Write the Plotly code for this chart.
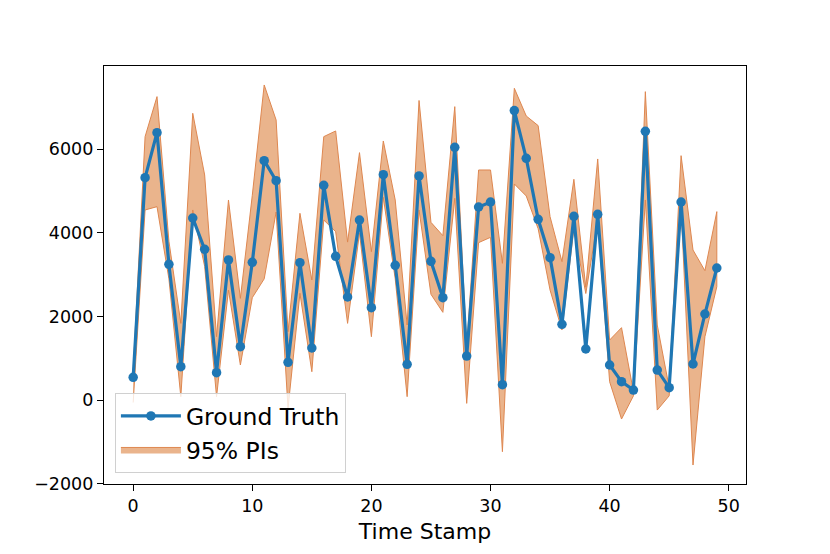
import plotly.graph_objects as go

time_stamp = list(range(50))

ground_truth = [543, 5323, 6400, 3248, 798, 4357, 3607, 654, 3352, 1277,
                3296, 5730, 5251, 902, 3288, 1245, 5139, 3439, 2466, 4309,
                2210, 5394, 3224, 854, 5365, 3320, 2450, 6049, 1053, 4620,
                4740, 367, 6927, 5786, 4325, 3407, 1811, 4397, 1221, 4445,
                838, 439, 239, 6432, 718, 295, 4740, 862, 2059, 3160]

pi_upper = [700, 6304, 7262, 3800, 1835, 6863, 5387, 1516, 4788, 2434,
            4900, 7541, 6703, 1636, 4469, 2873, 6304, 6440, 3780, 5921,
            3551, 6200, 4788, 1795, 7170, 4253, 3934, 7022, 1277, 5506,
            5506, 3272, 7461, 6799, 6568, 4389, 3312, 5283, 2700, 5770,
            1436, 1732, 200, 7381, 1795, 300, 5849, 3591, 3096, 4509]

pi_lower = [-60, 4549, 4628, 2900, 80, 4549, 3200, 80, 2633, 838,
            2450, 2900, 4500, -200, 2554, 678, 4309, 4030, 1835, 4000,
            1516, 4850, 2900, 80, 4549, 2530, 2099, 4828, -80, 3767,
            3894, -1237, 5171, 4884, 4100, 2633, 1676, 4100, 2550, 4300,
            439, -455, 100, 4788, -240, 100, 4600, -1556, 1516, 2713]

blue = "#1f77b4"
orange_fill = "rgb(234,180,140)"
orange_edge = "rgb(222,135,80)"

fig = go.Figure()

# band: upper edge forward, lower edge back
fig.add_trace(go.Scatter(
    x=time_stamp + time_stamp[::-1],
    y=pi_upper + pi_lower[::-1],
    fill="toself", fillcolor=orange_fill,
    line=dict(color=orange_edge, width=1),
    mode="lines", name="95% PIs", legendrank=2,
))

fig.add_trace(go.Scatter(
    x=time_stamp, y=ground_truth,
    mode="lines+markers", name="Ground Truth", legendrank=1,
    line=dict(color=blue, width=3.2),
    marker=dict(color=blue, size=9.5),
))

axis_common = dict(
    showgrid=False, zeroline=False,
    showline=True, linecolor="black", linewidth=1.3, mirror=True,
    ticks="outside", ticklen=6, tickwidth=1.3, tickcolor="black",
    tickfont=dict(size=17.5, color="black"),
)

fig.update_xaxes(range=[-2.45, 51.45], tickvals=[0, 10, 20, 30, 40, 50],
                 title=dict(text="Time Stamp", font=dict(size=22, color="black"), standoff=8),
                 **axis_common)
fig.update_yaxes(range=[-2010, 7995], tickvals=[-2000, 0, 2000, 4000, 6000],
                 **axis_common)

# page body has an 8px margin, so margins are offset to land the axes where the original has them
fig.update_layout(
    width=830, height=554,
    margin=dict(l=96, r=92, t=58, b=78),
    plot_bgcolor="white", paper_bgcolor="white",
    font=dict(family="DejaVu Sans", color="black"),
    legend=dict(x=0.017, y=0.026, xanchor="left", yanchor="bottom",
                bgcolor="rgba(255,255,255,0.8)", bordercolor="#d0d0d0", borderwidth=1,
                font=dict(size=23.5), itemwidth=60),
)

fig.write_html("out.html")
